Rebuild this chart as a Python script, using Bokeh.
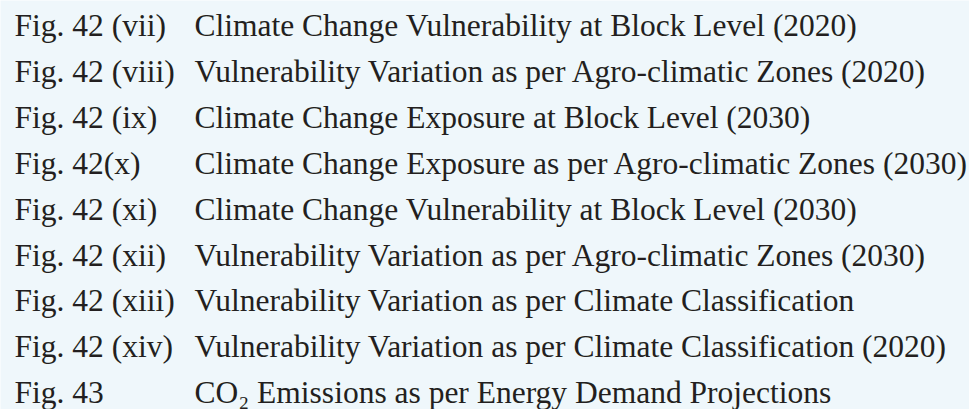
from bokeh.plotting import figure
from bokeh.models import Range1d, ColumnDataSource
from bokeh.core.properties import value
from bokeh.embed import file_html
from bokeh.resources import INLINE

fig_labels = [
    "Fig. 42 (vii)",
    "Fig. 42 (viii)",
    "Fig. 42 (ix)",
    "Fig. 42(x)",
    "Fig. 42 (xi)",
    "Fig. 42 (xii)",
    "Fig. 42 (xiii)",
    "Fig. 42 (xiv)",
    "Fig. 43",
]
fig_titles = [
    "Climate Change Vulnerability at Block Level (2020)",
    "Vulnerability Variation as per Agro-climatic Zones (2020)",
    "Climate Change Exposure at Block Level (2030)",
    "Climate Change Exposure as per Agro-climatic Zones (2030)",
    "Climate Change Vulnerability at Block Level (2030)",
    "Vulnerability Variation as per Agro-climatic Zones (2030)",
    "Vulnerability Variation as per Climate Classification",
    "Vulnerability Variation as per Climate Classification (2020)",
    "CO\u2082 Emissions as per Energy Demand Projections",
]

W, H = 969, 409
BG = "#eff7fb"
TXT = "#231f20"
FONT = "Liberation Serif"
SIZE = "31.5px"

ys = [25 + 45.9 * i for i in range(len(fig_labels))]
src = ColumnDataSource(dict(label=fig_labels, title=fig_titles, y=ys,
                            xl=[14] * len(ys), xt=[194] * len(ys)))

p = figure(width=W, height=H, output_backend="svg", toolbar_location=None,
           x_range=Range1d(0, W), y_range=Range1d(H, 0), min_border=0,
           background_fill_color=BG, border_fill_color=BG, outline_line_color=None)
p.axis.visible = False
p.grid.visible = False

p.text(x="xl", y="y", text="label", source=src, text_font=value(FONT),
       text_font_size=value(SIZE), text_color=TXT, text_baseline="alphabetic",
       text_align="left")
p.text(x="xt", y="y", text="title", source=src, text_font=value(FONT),
       text_font_size=value(SIZE), text_color=TXT, text_baseline="alphabetic",
       text_align="left")

html = file_html(p, INLINE)
html = html.replace("<body>", '<body style="margin:0;background-color:%s;overflow:hidden;">' % BG, 1)
open("out.html", "w").write(html)
